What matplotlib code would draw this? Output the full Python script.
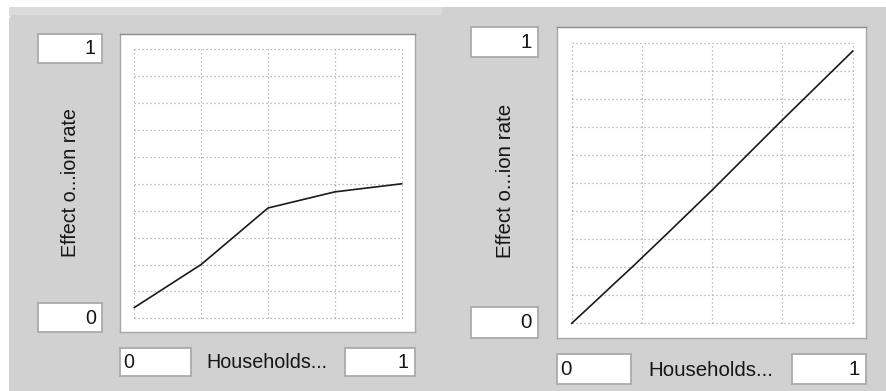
import matplotlib
matplotlib.use("Agg")
import matplotlib.pyplot as plt
from matplotlib.patches import Rectangle, FancyBboxPatch

# lookup values
left_x = [0.0, 0.25, 0.5, 0.75, 1.0]
left_y = [0.04, 0.2, 0.41, 0.47, 0.5]

right_x = [0.0, 0.07, 0.15, 0.22, 0.34, 0.5, 0.75, 1.0]
right_y = [0.0, 0.065, 0.14, 0.205, 0.32, 0.475, 0.725, 0.97]

x_ticks = [0.0, 0.25, 0.5, 0.75, 1.0]
y_ticks = [0.0, 0.1, 0.2, 0.3, 0.4, 0.5, 0.6, 0.7, 0.8, 0.9, 1.0]

y_label = "Effect o...ion rate"
x_label = "Households..."
x_min_txt, x_max_txt = "0", "1"
y_min_txt, y_max_txt = "0", "1"

W, H = 886, 391
plt.rcParams['font.family'] = ['Liberation Sans', 'DejaVu Sans']
TXT = '#161616'
PANEL = '#d1d1d1'

fig = plt.figure(figsize=(W / 100, H / 100), dpi=100)
fig.patch.set_facecolor('white')

# background layer in pixel coordinates
bg = fig.add_axes([0, 0, 1, 1])
bg.set_xlim(0, W)
bg.set_ylim(H, 0)
bg.axis('off')
bg.add_patch(Rectangle((9, 7), 433, 9, facecolor='#dbdbdb', edgecolor='none'))
bg.add_patch(FancyBboxPatch((9, 15), 440, 400, boxstyle="round,pad=0,rounding_size=5",
                            facecolor=PANEL, edgecolor='none'))
bg.add_patch(Rectangle((442, 7), W - 442, H, facecolor=PANEL, edgecolor='none'))


def text_box(x0, y0, x1, y1, txt, align, size):
    bg.add_patch(Rectangle((x0, y0), x1 - x0, y1 - y0, facecolor='white',
                           edgecolor='#aaaaaa', linewidth=1.3, zorder=2))
    if align == 'right':
        bg.text(x1 - 6, (y0 + y1) / 2 + 0.5, txt, ha='right', va='center',
                fontsize=size, color=TXT, zorder=3)
    else:
        bg.text(x0 + 3, (y0 + y1) / 2 + 0.5, txt, ha='left', va='center',
                fontsize=size, color=TXT, zorder=3)


def panel(box, inner, xs, ys, size, boxes, xlab_pos, ylab_pos):
    bx0, by0, bx1, by1 = box
    ix0, iy0, ix1, iy1 = inner
    ax = fig.add_axes([bx0 / W, 1 - by1 / H, (bx1 - bx0) / W, (by1 - by0) / H])
    sx = ix1 - ix0
    sy = iy1 - iy0
    ax.set_xlim(-(ix0 - bx0) / sx, 1 + (bx1 - ix1) / sx)
    ax.set_ylim(-(by1 - iy1) / sy, 1 + (iy0 - by0) / sy)
    ax.set_facecolor('white')
    ax.set_xticks([])
    ax.set_yticks([])
    # dotted grid only inside the 0..1 square
    grid_kw = dict(color='#a8a8a8', linestyle=(0, (1, 2.2)), linewidth=0.9, zorder=1)
    for t in x_ticks:
        ax.plot([t, t], [0, 1], **grid_kw)
    for t in y_ticks:
        ax.plot([0, 1], [t, t], **grid_kw)
    for s in ax.spines.values():
        s.set_color('#a6a6a6')
        s.set_linewidth(1.0)
    ax.spines['top'].set_color('#8c8c8c')
    ax.plot(xs, ys, color='#1a1a1a', linewidth=1.2, zorder=3)

    (ymax_b, ymin_b, xmin_b, xmax_b) = boxes
    text_box(*ymax_b, y_max_txt, 'right', size)
    text_box(*ymin_b, y_min_txt, 'right', size)
    text_box(*xmin_b, x_min_txt, 'left', size)
    text_box(*xmax_b, x_max_txt, 'right', size)
    bg.text(xlab_pos[0], xlab_pos[1], x_label, ha='center', va='center',
            fontsize=size, color=TXT)
    bg.text(ylab_pos[0], ylab_pos[1], y_label, ha='center', va='center',
            rotation=90, fontsize=size, color=TXT)


panel((120.3, 34.3, 415, 331.7), (134.3, 49.3, 401.7, 318.3), left_x, left_y, 14.2,
      ((38, 34, 102, 63), (38, 303, 102, 332), (120, 348, 191, 376), (345, 348, 415, 376)),
      (267, 362), (70.5, 183))

panel((557.3, 26.7, 866.3, 337.7), (571.7, 42.7, 852.7, 323.3), right_x, right_y, 14.8,
      ((471, 27, 538, 57), (471, 307, 538, 338), (557, 354, 631, 384), (792, 354, 866, 384)),
      (711, 370), (505.5, 181))

fig.savefig('out.png', dpi=100, facecolor=fig.get_facecolor())
